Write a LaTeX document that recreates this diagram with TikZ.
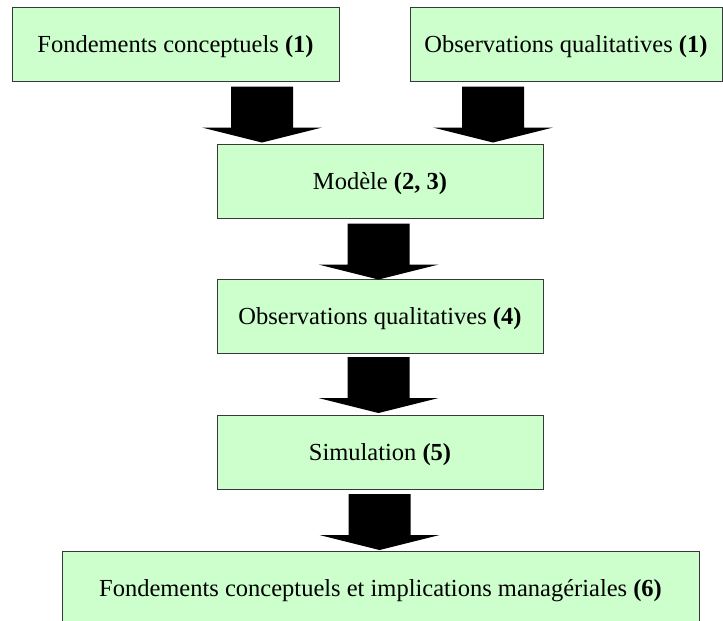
\documentclass[tikz,border=0pt]{standalone}
\usepackage{fontspec}
\setmainfont{Liberation Serif}
\usetikzlibrary{calc}
\definecolor{boxgreen}{HTML}{CCFFCC}
\definecolor{boxline}{HTML}{383838}
\begin{document}
\begin{tikzpicture}[x=1pt,y=-1pt,
  stagebox/.style={draw=boxline, line width=1pt, fill=boxgreen,
    minimum height=74pt, inner sep=0pt,
    text height=16.2pt, text depth=0pt,
    font=\fontsize{24.5}{29}\selectfont},
  % thick block arrow, anchored at the middle of the top of its shaft
  flowarrow/.pic={\fill[black] (-31,0) -- (31,0) -- (31,41) -- (60,41)
      -- (0,56) -- (-60,41) -- (-31,41) -- cycle;}]
\useasboundingbox (0,0) rectangle (723,621);
\clip (0,0) rectangle (723,621);

% stages
\node[stagebox, minimum width=327pt] (fond) at (175.5,44)
  {Fondements conceptuels \textbf{(1)}};
\node[stagebox, minimum width=312pt] (obsA) at (566,44)
  {Observations qualitatives \textbf{(1)}};
\node[stagebox, minimum width=326pt] (mod) at (380,181)
  {Modèle \textbf{(2, 3)}};
\node[stagebox, minimum width=326pt] (obsB) at (380,316.5)
  {Observations qualitatives \textbf{(4)}};
\node[stagebox, minimum width=326pt] (sim) at (380,452.5)
  {Simulation \textbf{(5)}};
\node[stagebox, minimum width=637pt] (impl) at (380.5,588)
  {Fondements conceptuels et implications managériales \textbf{(6)}};

% block arrows between the stages
\pic at ($(fond.south)+(86.5,5)$) {flowarrow};
\pic at ($(obsA.south)+(-73,5)$) {flowarrow};
\pic at ($(mod.south)+(-1.5,5)$) {flowarrow};
\pic at ($(obsB.south)+(-1.5,3)$) {flowarrow};
\pic at ($(sim.south)+(-0.5,4)$) {flowarrow};
\end{tikzpicture}
\end{document}
